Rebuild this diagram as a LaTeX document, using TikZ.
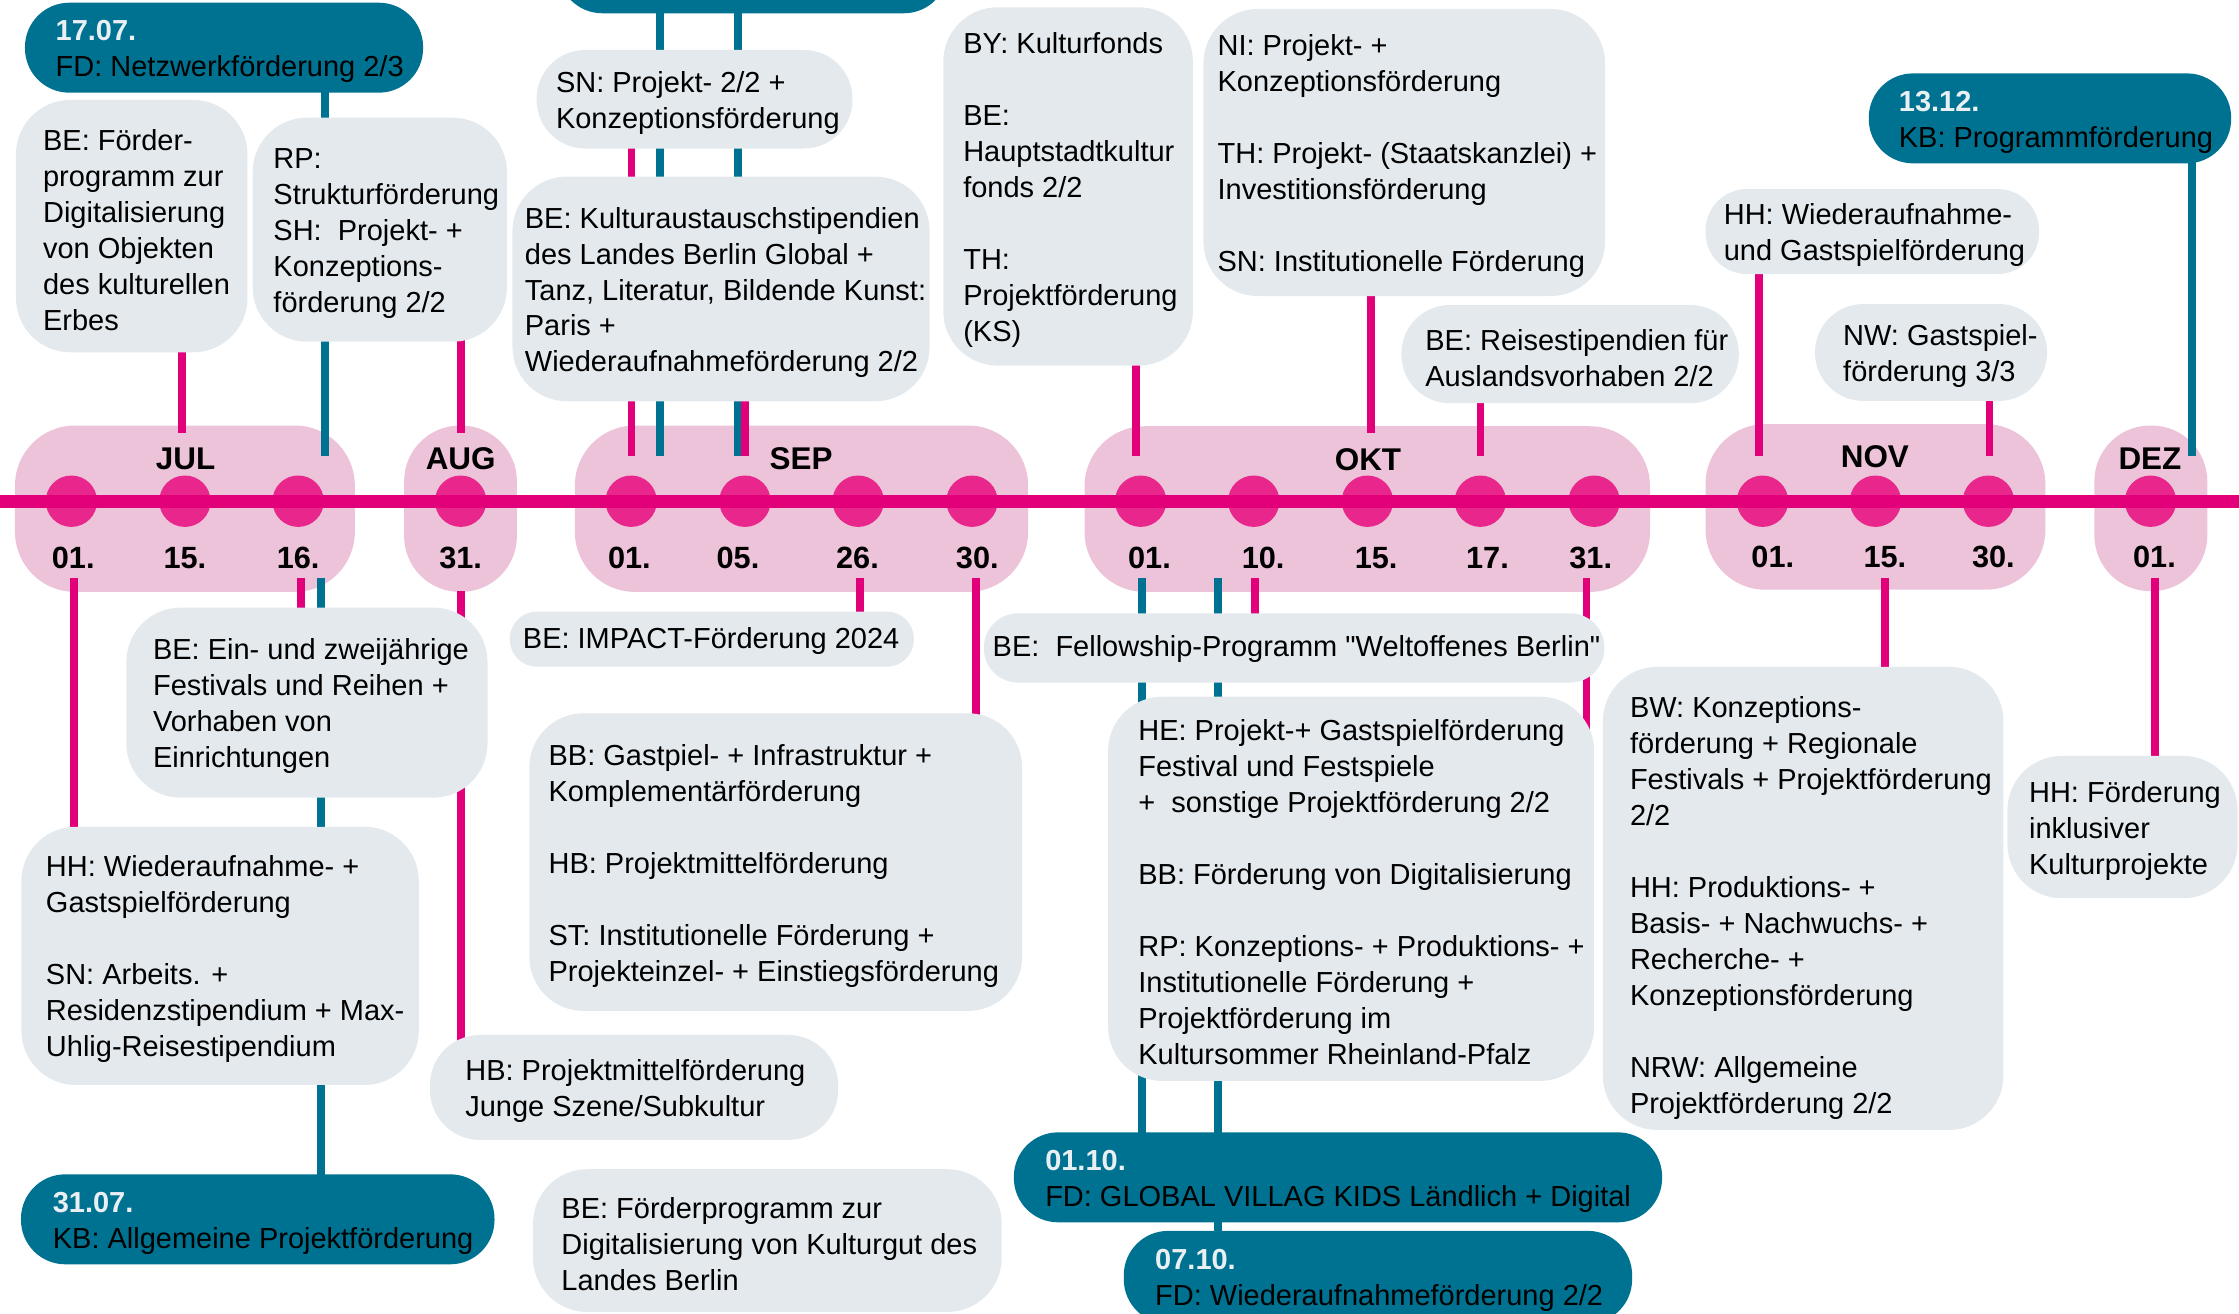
\documentclass[tikz,border=0pt]{standalone}
\usepackage{fontspec}
\setmainfont{Liberation Sans}[Ligatures=TeXOff]
\pgfdeclarelayer{bg}\pgfdeclarelayer{conn}\pgfsetlayers{bg,conn,main}
\definecolor{magc}{HTML}{E2007A}
\definecolor{dotc}{HTML}{E8268B}
\definecolor{pillc}{HTML}{EDC3DA}
\definecolor{grayc}{HTML}{E3E9ED}
\definecolor{bluec}{HTML}{007291}
\definecolor{datec}{HTML}{E9EFF2}
\tikzset{
 graybox/.style={fill=grayc, draw=none, inner sep=0pt, outer sep=0pt},
 bluebox/.style={fill=bluec, draw=none, inner sep=0pt, outer sep=0pt},
 pillbox/.style={fill=pillc, draw=none, inner sep=0pt, outer sep=0pt},
 dotnode/.style={circle, fill=dotc, draw=none, minimum size=36pt, inner sep=0pt},
 txt/.style={align=left, inner sep=0pt, font=\fontsize{20.3}{25.2}\selectfont, text=black},
 monlab/.style={inner sep=0pt, font=\fontsize{22}{24}\selectfont\bfseries, text=black},
 datlab/.style={inner sep=0pt, font=\fontsize{21.5}{24}\selectfont\bfseries, text=black},
 mline/.style={draw=magc, line width=5.5pt},
 bline/.style={draw=bluec, line width=5.5pt},
 tline/.style={draw=magc, line width=9pt},
}
\newcommand\mkbox[7]{\node[#7, rounded corners=#6pt, minimum width={(#4)-(#2)}, minimum height={(#5)-(#3)}, anchor=north west] (#1) at (#2,#3) {};}
\newcommand\mktext[4][-2.5]{\node[txt, anchor=west] (t#2) at ([xshift=#3pt,yshift=#1pt]#2.west) {#4};}
\newcommand\blankln{\\[25.2pt]}
\newcommand\dte[1]{{\bfseries\color{datec}#1}}
\begin{document}
\begin{tikzpicture}[x=1pt,y=-1pt]
\useasboundingbox (0,0) rectangle (1568,920);
\begin{pgfonlayer}{bg}
% month pills
\mkbox{pjul}{10.5}{298}{248.5}{414.5}{42}{pillbox}
\mkbox{paug}{283}{298}{362}{414.5}{39}{pillbox}
\mkbox{psep}{402.6}{298}{720}{414.5}{42}{pillbox}
\mkbox{pokt}{759.5}{298.5}{1155.5}{414.5}{42}{pillbox}
\mkbox{pnov}{1194.4}{297}{1432.4}{413}{42}{pillbox}
\mkbox{pdez}{1466.7}{298}{1545.8}{414}{39}{pillbox}
% dots
\foreach \n/\x in {j01/50,j15/129.5,j16/208.8,a31/322.6,s01/442,s05/521.7,s26/601,s30/680.7,o01/798.8,o10/878,o15/957.6,o17/1036.7,o31/1116.4,n01/1234.3,n15/1313.4,n30/1392.5,d01/1506}
  \node[dotnode] (\n) at (\x,351) {};
% timeline
\coordinate (tlL) at (-5,351);
\coordinate (tlR) at (1575,351);
\draw[tline] (tlL) -- (tlR);
\end{pgfonlayer}
% month labels
\node[monlab] (mjul) at (130,321.5) {JUL};
\node[monlab] (maug) at (322.6,321.5) {AUG};
\node[monlab] (msep) at (561,321.5) {SEP};
\node[monlab] (mokt) at (958,322) {OKT};
\node[monlab] (mnov) at (1313,320) {NOV};
\node[monlab] (mdez) at (1505.6,321.5) {DEZ};
% date labels
\foreach \n/\x/\t in {lj01/51.3/01.,lj15/129.5/15.,lj16/208.8/16.,la31/322.6/31.,ls01/440.8/01.,ls05/516.8/05.,ls26/600.5/26.,ls30/684.4/30.,lo01/805/01.,lo10/884.6/10.,lo15/963.7/15.,lo17/1041.7/17.,lo31/1114/31.}
  \node[datlab] (\n) at (\x,391) {\t};
\foreach \n/\x/\t in {ln01/1241.5/01.,ln15/1320/15.,ln30/1396/30.,ld01/1508.8/01.}
  \node[datlab] (\n) at (\x,390) {\t};
% gray boxes (top)
\mkbox{bBEf}{11.2}{70}{173.3}{246.7}{38}{graybox}
\mkbox{bRP}{177}{82.4}{355}{239.3}{38}{graybox}
\mkbox{bSN}{375.8}{35}{597}{104}{34}{graybox}
\mkbox{bBEK}{358.9}{123.7}{651}{281}{38}{graybox}
\mkbox{bBY}{660.6}{5.1}{835.4}{256}{38}{graybox}
\mkbox{bNI}{842.8}{6.3}{1124}{207.3}{38}{graybox}
\mkbox{bBER}{981.4}{213.6}{1217.7}{282.4}{34}{graybox}
\mkbox{bHHW}{1194.4}{132.4}{1428}{191.9}{29}{graybox}
\mkbox{bNW}{1271}{212.9}{1433.6}{280.8}{34}{graybox}
% gray boxes (bottom)
\mkbox{bEin}{88.5}{425.5}{341.4}{558.6}{38}{graybox}
\mkbox{bHH}{15}{579}{293.3}{759.8}{38}{graybox}
\mkbox{bIMP}{357}{428.3}{640}{466.9}{19}{graybox}
\mkbox{bBB}{370.7}{499.5}{715.8}{708}{38}{graybox}
\mkbox{bHB}{301.1}{724.8}{587}{798.3}{35}{graybox}
\mkbox{bBEP}{373.3}{818.8}{701.5}{918.8}{38}{graybox}
\mkbox{bFel}{689}{429.5}{1123.6}{478}{24}{graybox}
\mkbox{bHE}{776}{487.9}{1116.4}{757}{38}{graybox}
\mkbox{bBW}{1122.5}{467}{1403}{791.3}{38}{graybox}
\mkbox{bHHI}{1405.8}{529.4}{1567}{629}{38}{graybox}
% blue boxes
\mkbox{b1707}{17.5}{1.9}{296.3}{64.9}{31}{bluebox}
\mkbox{btop}{390.8}{-60}{664}{9.3}{31}{bluebox}
\mkbox{b1312}{1308.7}{51.4}{1562.5}{114.4}{31}{bluebox}
\mkbox{b3107}{14.7}{822.4}{346.3}{885.4}{31}{bluebox}
\mkbox{b0110}{710}{793}{1164}{856}{31}{bluebox}
\mkbox{b0710}{787}{862}{1143}{927}{31}{bluebox}
% texts
\mktext{bBEf}{18.8}{BE: Förder-\\programm zur\\Digitalisierung\\von Objekten\\des kulturellen\\Erbes}
\mktext{bRP}{14.3}{RP:\\Strukturförderung\\SH:\ \ Projekt- +\\Konzeptions-\\förderung 2/2}
\mktext{bSN}{13.4}{SN: Projekt- 2/2 +\\Konzeptionsförderung}
\mktext{bBEK}{8.5}{BE: Kulturaustauschstipendien\\des Landes Berlin Global +\\Tanz, Literatur, Bildende Kunst:\\Paris +\\Wiederaufnahmeförderung 2/2}
\mktext{bBY}{13.8}{BY: Kulturfonds\blankln BE:\\Hauptstadtkultur\\fonds 2/2\blankln TH:\\Projektförderung\\(KS)}
\mktext{bNI}{9.7}{NI: Projekt- +\\Konzeptionsförderung\blankln TH: Projekt- (Staatskanzlei) +\\Investitionsförderung\blankln SN: Institutionelle Förderung}
\mktext{bBER}{16.6}{BE: Reisestipendien für\\Auslandsvorhaben 2/2}
\mktext{bHHW}{12.6}{HH: Wiederaufnahme-\\und Gastspielförderung}
\mktext{bNW}{19.6}{NW: Gastspiel-\\förderung 3/3}
\mktext{bEin}{18.5}{BE: Ein- und zweijährige\\Festivals und Reihen +\\Vorhaben von\\Einrichtungen}
\mktext{bHH}{17}{HH: Wiederaufnahme- +\\Gastspielförderung\blankln SN: Arbeits. +\\Residenzstipendium + Max-\\Uhlig-Reisestipendium}
\mktext[-1]{bIMP}{9}{BE: IMPACT-Förderung 2024}
\mktext{bBB}{13.3}{BB: Gastpiel- + Infrastruktur +\\Komplementärförderung\blankln HB: Projektmittelförderung\blankln ST: Institutionelle Förderung +\\Projekteinzel- + Einstiegsförderung}
\mktext{bHB}{24.6}{HB: Projektmittelförderung\\Junge Szene/Subkultur}
\mktext{bBEP}{19.7}{BE: Förderprogramm zur\\Digitalisierung von Kulturgut des\\Landes Berlin}
\mktext[-1]{bFel}{6}{BE:\ \ Fellowship-Programm "Weltoffenes Berlin"}
\mktext{bHE}{21}{HE: Projekt-+ Gastspielförderung\\Festival und Festspiele\\+\ \ sonstige Projektförderung 2/2\blankln BB: Förderung von Digitalisierung\blankln RP: Konzeptions- + Produktions- +\\Institutionelle Förderung +\\Projektförderung im\\Kultursommer Rheinland-Pfalz}
\mktext[-7]{bBW}{18.8}{BW: Konzeptions-\\förderung + Regionale\\Festivals + Projektförderung\\2/2\blankln HH: Produktions- +\\Basis- + Nachwuchs- +\\Recherche- +\\Konzeptionsförderung\blankln NRW: Allgemeine\\Projektförderung 2/2}
\mktext{bHHI}{15}{HH: Förderung\\inklusiver\\Kulturprojekte}
\mktext{b1707}{21.3}{\dte{17.07.}\\FD: Netzwerkförderung 2/3}
\mktext{b1312}{20.9}{\dte{13.12.}\\KB: Programmförderung}
\mktext{b3107}{22.1}{\dte{31.07.}\\KB: Allgemeine Projektförderung}
\mktext{b0110}{21.8}{\dte{01.10.}\\FD: GLOBAL VILLAG KIDS Ländlich + Digital}
\mktext{b0710}{21.8}{\dte{07.10.}\\FD: Wiederaufnahmeförderung 2/2}
% connectors
\begin{pgfonlayer}{conn}
\coordinate (topA) at (0,303.5);
\coordinate (topB) at (0,319.5);
\coordinate (botA) at (0,404.5);
\coordinate (botB) at (0,414);
\coordinate (xa) at (127.6,0);
\coordinate (xb) at (227.3,0);
\coordinate (xc) at (322.9,0);
\coordinate (xd) at (442.2,0);
\coordinate (xe) at (462,0);
\coordinate (xf) at (516.6,0);
\coordinate (xg) at (521.6,0);
\coordinate (xh) at (795.5,0);
\coordinate (xi) at (960.2,0);
\coordinate (xj) at (1036.8,0);
\coordinate (xk) at (1231.8,0);
\coordinate (xl) at (1393.3,0);
\coordinate (xm) at (1534.8,0);
\coordinate (ya) at (51.8,0);
\coordinate (yb) at (210.6,0);
\coordinate (yc) at (225,0);
\coordinate (yd) at (602.4,0);
\coordinate (ye) at (683.5,0);
\coordinate (yf) at (800,0);
\coordinate (yg) at (853,0);
\coordinate (yh) at (879,0);
\coordinate (yi) at (1111,0);
\coordinate (yj) at (1320,0);
\coordinate (yk) at (1509.3,0);
% top
\draw[mline] (xa |- bBEf.center) -- (xa |- topA);
\draw[bline] (xb |- b1707.center) -- (xb |- topB);
\draw[mline] (xc |- bRP.center) -- (xc |- topA);
\draw[mline] (xd |- bSN.center) -- (xd |- topB);
\draw[bline] (xe |- btop.center) -- (xe |- topB);
\draw[bline] (xf |- btop.center) -- (xf |- topB);
\draw[mline] (xg |- bBEK.center) -- (xg |- topB);
\draw[mline] (xh |- bBY.center) -- (xh |- topB);
\draw[mline] (xi |- bNI.center) -- (xi |- topA);
\draw[mline] (xj |- bBER.center) -- (xj |- topB);
\draw[mline] (xk |- bHHW.center) -- (xk |- topB);
\draw[mline] (xl |- bNW.center) -- (xl |- topB);
\draw[bline] (xm |- b1312.center) -- (xm |- topB);
% bottom
\draw[mline] (ya |- botA) -- (ya |- bHH.center);
\draw[mline] (yb |- botA) -- (yb |- bEin.center);
\draw[bline] (yc |- botA) -- (yc |- b3107.center);
\draw[mline] (xc |- botB) -- (xc |- bHB.center);
\draw[mline] (yd |- botA) -- (yd |- bIMP.center);
\draw[mline] (ye |- botA) -- (ye |- bBB.center);
\draw[bline] (yf |- botA) -- (yf |- b0110.center);
\draw[bline] (yg |- botA) -- (yg |- b0710.center);
\draw[mline] (yh |- botA) -- (yh |- bFel.center);
\draw[mline] (yi |- botA) -- (yi |- bHE.center);
\draw[mline] (yj |- botA) -- (yj |- bBW.center);
\draw[mline] (yk |- botA) -- (yk |- bHHI.center);
\end{pgfonlayer}
\end{tikzpicture}
\end{document}
